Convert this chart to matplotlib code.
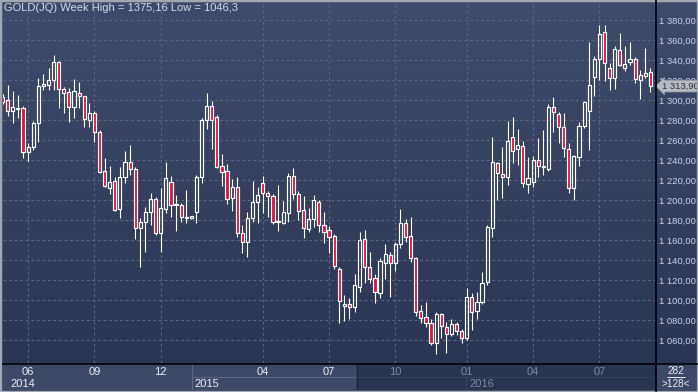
import numpy as np
import matplotlib
matplotlib.use("Agg")
import matplotlib.pyplot as plt
from matplotlib.lines import Line2D
from matplotlib.patches import Rectangle
from matplotlib.transforms import blended_transform_factory

plt.rcParams['font.family'] = ['Liberation Sans', 'DejaVu Sans']

# weekly OHLC of GOLD(JQ), 128 visible bars
opens = [1303, 1300, 1289, 1291, 1291.7, 1247.7, 1252.7, 1276.7, 1314, 1314.7,
         1320, 1337.7, 1310.7, 1307.7, 1292.7, 1306.7, 1304, 1280, 1286.7, 1267.7,
         1228.7, 1211.7, 1219, 1190.7, 1222.7, 1237.7, 1231, 1172.3, 1177.7, 1187.7,
         1200.7, 1166.7, 1190.7, 1217.7, 1195, 1195, 1182, 1182.5, 1188.3, 1222.7,
         1280, 1294, 1282.7, 1234, 1229, 1201.7, 1212.7, 1166.7, 1158.3, 1181.7,
         1197.7, 1216.7, 1206.7, 1204, 1178, 1177.3, 1187.3, 1224, 1205.7, 1190,
         1171, 1180.7, 1197.7, 1175, 1170, 1164, 1130.7, 1094.3, 1095.7, 1093.3,
         1113.3, 1160.7, 1132.7, 1121.7, 1106.7, 1137.3, 1145, 1137.3, 1155.7, 1176.7,
         1164, 1141.7, 1089, 1083.3, 1076.7, 1057.3, 1085.7, 1073.3, 1066, 1075.7,
         1069, 1061.7, 1103.3, 1089, 1097.7, 1117.7, 1171.7, 1236.7, 1225.7, 1222.7,
         1263.3, 1250.7, 1254, 1215.7, 1217.7, 1240, 1233.3, 1230.7, 1292.7, 1286,
         1272.7, 1251, 1211.7, 1243.3, 1274.3, 1289.3, 1322.7, 1340.7, 1368.3, 1331.7,
         1321.7, 1350, 1331.7, 1337.7, 1341, 1320, 1324.3, 1327.7]
highs = [1306, 1315, 1309, 1305, 1294, 1256.7, 1279, 1321.7, 1326, 1331.7,
         1345, 1339, 1313.3, 1312.3, 1320.7, 1318.3, 1304.5, 1296.7, 1289.3, 1270,
         1242.3, 1234, 1223.3, 1233.3, 1249.3, 1255, 1233.3, 1181.7, 1193.3, 1206.7,
         1203.3, 1211.7, 1237.7, 1224, 1205, 1197.3, 1210, 1184, 1225, 1281.7,
         1307.3, 1299.3, 1285, 1246, 1236, 1220.7, 1223.3, 1175, 1188.3, 1219.3,
         1212.7, 1224, 1209.3, 1206, 1215, 1199.3, 1226.7, 1231.7, 1209, 1204,
         1191.7, 1205, 1200, 1187.7, 1174, 1165.7, 1132.7, 1105, 1101.7, 1126,
         1168.3, 1170, 1148.3, 1126, 1141.7, 1156, 1148.3, 1158.3, 1190.7, 1180.7,
         1183.3, 1143.3, 1095, 1098.3, 1080.7, 1088.3, 1086.7, 1078.3, 1080.7, 1078.3,
         1070.7, 1111.7, 1107.3, 1108.3, 1128, 1175, 1262.7, 1238.3, 1253.3, 1279,
         1283.3, 1270.7, 1259.3, 1243.3, 1244, 1261.7, 1270, 1296, 1303.3, 1288.3,
         1287.3, 1256.7, 1245, 1278.3, 1299, 1358.3, 1344, 1375.16, 1375, 1337.3,
         1354.3, 1366.7, 1354.3, 1357.7, 1343.3, 1330, 1351.7, 1332.3]
lows = [1296, 1284, 1277, 1282, 1242, 1239.3, 1250, 1258.3, 1310, 1310,
        1310, 1291.7, 1286.7, 1278.3, 1281.7, 1291.7, 1272.7, 1272.7, 1258.3, 1226.7,
        1212.7, 1206, 1189, 1181.7, 1217.3, 1225, 1160.7, 1133, 1148, 1175,
        1165, 1148, 1186.7, 1183.3, 1169, 1178.3, 1177.3, 1181, 1177.3, 1216.7,
        1271, 1250.7, 1232, 1214, 1196, 1189.3, 1162.7, 1146.7, 1142.7, 1178.3,
        1177.3, 1187.3, 1183.3, 1176, 1169.3, 1176, 1178.3, 1200.7, 1180, 1161.7,
        1168.3, 1172.7, 1168.3, 1156.7, 1146.7, 1130.7, 1076.7, 1079.3, 1080.7, 1088.3,
        1108.3, 1116.7, 1116.7, 1097.3, 1101.7, 1120.7, 1103.3, 1129.3, 1151.7, 1158.3,
        1138.3, 1084, 1077.3, 1072.7, 1055, 1046.3, 1061.7, 1046.7, 1064, 1065,
        1057.3, 1060, 1070, 1081, 1096, 1115, 1163.3, 1200, 1201.7, 1215,
        1236.7, 1235, 1213.3, 1207.3, 1213.3, 1223.3, 1225, 1229.3, 1268.3, 1256.7,
        1243.3, 1206.7, 1200, 1234.3, 1271.7, 1250, 1304.3, 1320, 1319, 1310,
        1311, 1334.3, 1329, 1335, 1317.3, 1301, 1321.7, 1308.3]
closes = [1298.3, 1289, 1293, 1292.5, 1248.3, 1252.7, 1277.3, 1314, 1316, 1320,
          1337.7, 1310.7, 1306.7, 1292.7, 1308.7, 1304, 1280.7, 1286.7, 1267.7, 1228.3,
          1214.3, 1217.7, 1190, 1222.7, 1237.7, 1230.7, 1171.7, 1177.7, 1187.7, 1200.7,
          1166.7, 1191.7, 1221.7, 1195, 1195.6, 1182.7, 1183, 1183.3, 1223.3, 1280,
          1294, 1280, 1233.3, 1228.3, 1200.7, 1212.7, 1166.7, 1157.7, 1181.7, 1197.7,
          1205, 1206.7, 1204, 1178.3, 1178.8, 1187.7, 1224, 1205.7, 1189.3, 1171.7,
          1181, 1200, 1175, 1167.7, 1162.7, 1134, 1099, 1095.7, 1093.3, 1115,
          1160, 1132.7, 1120.7, 1107.7, 1139, 1146, 1137.3, 1156, 1176.7, 1163.3,
          1141.7, 1088.3, 1082.3, 1076.7, 1057.3, 1086, 1074, 1066, 1076, 1069,
          1061.7, 1103.3, 1088.3, 1097.7, 1117.3, 1173.3, 1237.7, 1226.7, 1222.7, 1259,
          1249, 1254.7, 1216.7, 1221.7, 1240, 1234, 1234.3, 1292.7, 1288.3, 1272.7,
          1251.7, 1211.7, 1244, 1274, 1297.7, 1315, 1340.7, 1365.7, 1336.7, 1321.7,
          1350.7, 1335, 1335.7, 1340.7, 1321, 1325, 1326.7, 1313.9]

price_ticks = list(range(1060, 1381, 20))
month_labels = ['06', '09', '12', '04', '07', '10', '01', '04', '07']
month_bars = [5, 18, 31, 51, 64, 77, 91, 104, 117]
year_labels = ['2014', '2015', '2016']
year_bars = [1.0, 37.1, 90.9]
last_price = 1313.90

W, H = 698, 392
BG_TOP = np.array([63, 75, 106]) / 255
BG_BOT = np.array([43, 54, 84]) / 255
DOWN_FILL = '#e0143c'
GRID = '#5a6682'
SPLIT = 69.5  # end of the highlighted part of the time scale


def px(x0, y0, x1, y1):
    """figure rect from pixel box (top-left origin)"""
    return [x0 / W, 1 - y1 / H, (x1 - x0) / W, (y1 - y0) / H]


def fmt_price(v):
    cents = int(round(v * 100))
    whole, frac = divmod(cents, 100)
    return f"{whole // 1000} {whole % 1000:03d},{frac:02d}"


fig = plt.figure(figsize=(W / 100, H / 100), dpi=100)
fig.patch.set_facecolor('#2c3756')

# gradient background for price area
bg = fig.add_axes(px(0, 0, W, 363))
grad = np.linspace(0, 1, 256)[:, None, None]
img = BG_TOP[None, None, :] * (1 - grad) + BG_BOT[None, None, :] * grad
bg.imshow(img, aspect='auto', extent=[0, 1, 0, 1], origin='upper')
bg.set_axis_off()

ax = fig.add_axes(px(3, 0, 655, 363))
ax.set_facecolor('none')
ax.set_xlim(0.08, 127.9)
ax.set_ylim(1037, 1400)

# grid
for p in price_ticks:
    ax.axhline(p, color=GRID, lw=0.8, ls=(0, (2.5, 2.5)), zorder=1)
for b in month_bars:
    ax.axvline(b, color=GRID, lw=0.8, ls=(0, (2.5, 2.5)), zorder=1)

# candles
x = np.arange(len(opens))
o = np.array(opens)
c = np.array(closes)
hi = np.array(highs)
lo = np.array(lows)
up = c >= o
top = np.maximum(o, c)
bot = np.minimum(o, c)
height = np.maximum(top - bot, 1.2)
ax.vlines(x, top, hi, color='white', lw=0.8, zorder=2)
ax.vlines(x, lo, bot, color='white', lw=0.8, zorder=2)
ax.bar(x[up], height[up], bottom=bot[up], width=0.62, facecolor='none',
       edgecolor='white', linewidth=0.85, zorder=3)
ax.bar(x[~up], height[~up], bottom=bot[~up], width=0.62, facecolor=DOWN_FILL,
       edgecolor='white', linewidth=0.85, zorder=3)

# right price scale
ax.yaxis.tick_right()
ax.set_yticks(price_ticks)
ax.set_yticklabels([fmt_price(p) for p in price_ticks])
ax.tick_params(axis='y', length=0, pad=3, labelsize=6.8, labelcolor='#c9d4ea')
ax.set_xticks([])
for s in ax.spines.values():
    s.set_visible(False)

# last price tag
tr = blended_transform_factory(ax.transAxes, ax.transData)
ax.text(1.0 + 7 / 652, last_price, fmt_price(last_price), transform=tr,
        ha='left', va='center', fontsize=6.8, color='#2d323c', zorder=5,
        bbox=dict(boxstyle='larrow,pad=0.15', fc='#b6bac2', ec='#8d929b', lw=0.5))

# title
fig.text(4 / W, 1 - 8 / H,
         f"GOLD(JQ) Week High = {max(highs):.2f} Low = {min(lows):.1f}".replace('.', ','),
         ha='left', va='center', fontsize=8, color='#d2d9e6')

# bottom time axis
bax = fig.add_axes(px(3, 363, 655, 390))
bax.set_xlim(0.08, 127.9)
bax.set_ylim(0, 1)
bax.set_axis_off()
bax.axvspan(-2, SPLIT, color='#3e4a65', zorder=0)
bax.axvspan(SPLIT, 130, color='#29344f', zorder=0)
bax.hlines(0.48, year_bars[1], SPLIT, color='#5b6780', lw=0.8)
bax.hlines(0.48, SPLIT, 128, color='#36415c', lw=0.8)
bax.vlines(year_bars[1], 0, 1, color='#5b6780', lw=0.8)
bax.vlines(SPLIT, 0, 1, color='#1e2638', lw=1.0)
bax.vlines(year_bars[2], 0, 0.48, color='#36415c', lw=0.8)
for lab, b in zip(month_labels, month_bars):
    col = '#e8ecf4' if b < SPLIT else '#7f899f'
    bax.text(b, 0.68, lab, ha='center', va='center', fontsize=8, color=col)
for lab, b in zip(year_labels, year_bars):
    col = '#e8ecf4' if b < SPLIT else '#7f899f'
    bax.text(b + 0.6, 0.24, lab, ha='left', va='center', fontsize=8, color=col)

# corner box
cax = fig.add_axes(px(656, 363, W - 2, 390))
cax.set_xlim(0, 1)
cax.set_ylim(0, 1)
cax.set_facecolor('#3e4a65')
cax.set_xticks([])
cax.set_yticks([])
for s in cax.spines.values():
    s.set_visible(False)
cax.text(0.5, 0.72, '282', ha='center', va='center', fontsize=7.2, color='#e8ecf4')
cax.hlines(0.49, 0.28, 0.72, color='#e8ecf4', lw=0.7)
cax.text(0.5, 0.24, '>128<', ha='center', va='center', fontsize=7.2, color='#e8ecf4')

# separators and frame
fig.add_artist(Line2D([655.5 / W] * 2, [1 - 391 / H, 1], color='black', lw=1.2))
fig.add_artist(Line2D([3 / W, 1], [1 - 363.5 / H] * 2, color='black', lw=1.2))
fig.add_artist(Rectangle((0, 0), 1, 1, transform=fig.transFigure, fill=False,
                         ec='#a3a8b0', lw=2.5))

fig.savefig('out.png', dpi=100)
